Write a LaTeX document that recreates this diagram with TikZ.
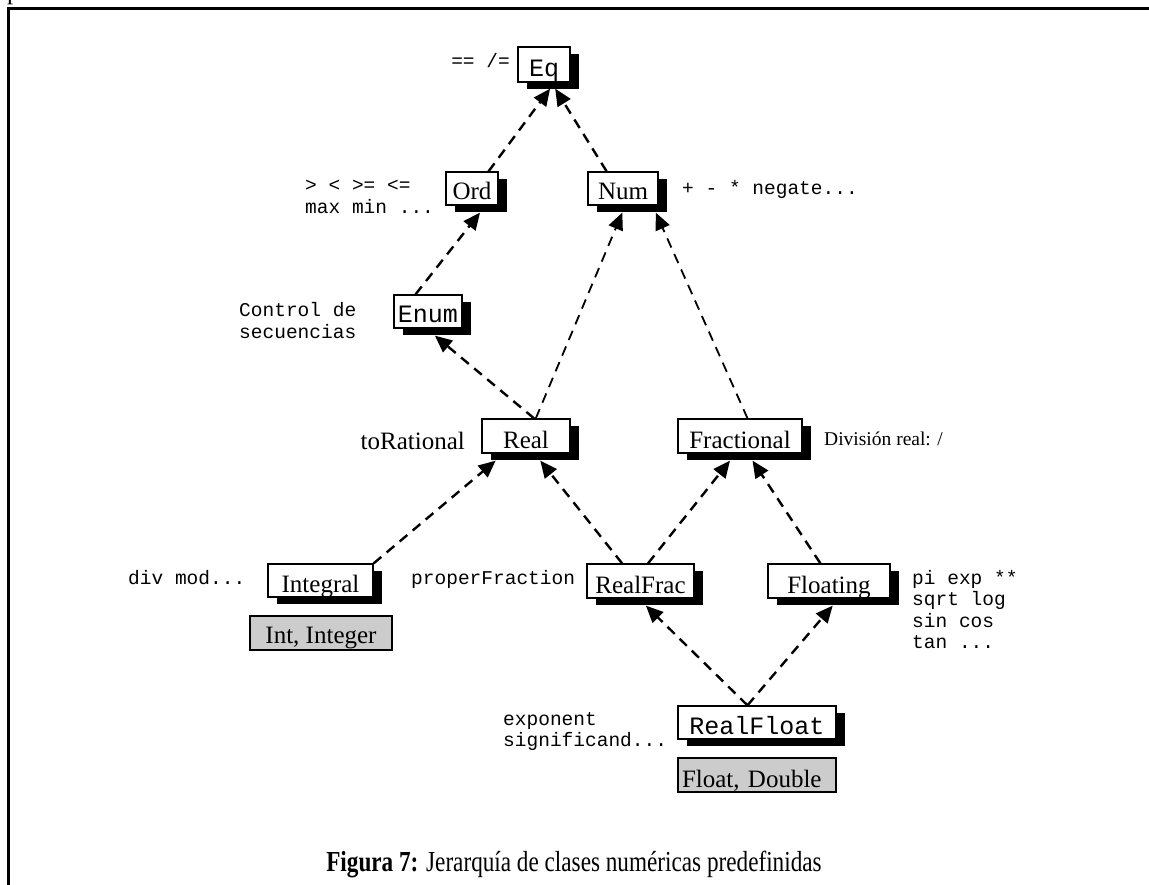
\documentclass[tikz,border=0pt]{standalone}
\usepackage{fontspec}
\setmainfont{Liberation Serif}
\newfontfamily\cour{Liberation Mono}
\usetikzlibrary{arrows.meta,calc,shadows}
\begin{document}
\begin{tikzpicture}[x=1pt,y=-1pt,
  every node/.style={inner sep=0pt},
  cls/.style={draw, line width=1.3pt, fill=white, text depth=5pt,
    drop shadow={shadow xshift=9pt, shadow yshift=-7pt, fill=black, opacity=1}},
  inst/.style={draw, line width=1.3pt, fill=black!20},
  serif/.style={font=\fontsize{25}{30}\selectfont},
  mono/.style={font=\cour\fontsize{25}{30}\selectfont},
  note/.style={font=\cour\fontsize{19.5}{21.5}\selectfont, anchor=base west},
  dep/.style={dash pattern=on 10pt off 7pt, line width=2.4pt,
    -{Triangle[length=17pt,width=15pt]}},
  lightdep/.style={dep, line width=1.8pt}
]
% page and frame
\fill[white] (0,0) rectangle (1149,885);
\useasboundingbox (0,0) rectangle (1149,885);
\node[serif,anchor=base west] (pfrag) at (7,0) {p};
\draw[line width=3pt] (8,900) -- (8,8.5) -- (1160,8.5);

% classes
\node[cls,mono,minimum width=52pt,text height=30pt] (eq) at (544,64.5) {Eq};
\node[cls,serif,minimum width=52pt,text height=28pt] (ord) at (472,188.5) {Ord};
\node[cls,serif,minimum width=70pt,text height=28pt] (num) at (623,188.5) {Num};
\node[cls,mono,minimum width=68pt,text height=28pt] (enum) at (428,311.5) {Enum};
\node[cls,serif,minimum width=88pt,text height=29pt] (real) at (526,436) {Real};
\node[cls,serif,minimum width=124pt,text height=29pt] (fractional) at (740,436) {Fractional};
\node[cls,serif,minimum width=105pt,text height=28pt] (integral) at (320.5,580.5) {Integral};
\node[cls,serif,minimum width=107pt,text height=29pt] (realfrac) at (640.5,581) {RealFrac};
\node[cls,serif,minimum width=122pt,text height=29pt] (floating) at (829,581) {Floating};
\node[cls,mono,minimum width=158pt,text height=28pt] (realfloat) at (757,722.5) {RealFloat};

% instances
\node[inst,serif,minimum width=142pt,text height=27pt,text depth=7pt] (ints) at (321,633) {Int, Integer};
\node[inst,serif,text width=150pt,inner xsep=4pt,align=left,text height=29pt,text depth=5pt] (floats) at (757,775) {Float, Double};

% operations
\node[note,anchor=base east] (eqops) at (510,68) {== /=};
\node[note] (ordops) at (305,192) {\begin{tabular}[t]{@{}l@{}}> < >= <=\\max min ...\end{tabular}};
\node[note] (numops) at (682,195) {+ - * negate...};
\node[note] (enumops) at (239,317) {\begin{tabular}[t]{@{}l@{}}Control de\\secuencias\end{tabular}};
\node[serif,anchor=base east] (realops) at (465,449) {toRational};
\node[font=\fontsize{19.5}{22}\selectfont,anchor=base west] (fracops) at (824,445) {División real: /};
\node[note] (intops) at (128,584) {div mod...};
\node[note] (rfops) at (411,584) {properFraction};
\node[note] (flops) at (912,584) {\begin{tabular}[t]{@{}l@{}}pi exp **\\sqrt log\\sin cos\\tan ...\end{tabular}};
\node[note] (rflops) at (503,725) {\begin{tabular}[t]{@{}l@{}}exponent\\significand...\end{tabular}};

% caption
\node[font=\fontsize{29}{34}\selectfont,anchor=base] (caption) at (574,871)
  {\scalebox{0.8}[1]{\textbf{Figura 7:} Jerarquía de clases numéricas predefinidas}};

% class dependencies
\draw[dep] ($(ord.north west)!0.81!(ord.north east)$) -- ($(eq.south west)!0.615!(eq.south east)+(0,6)$);
\draw[dep] ($(num.north west)!0.27!(num.north east)$) -- ($(eq.south west)!0.71!(eq.south east)+(0,6)$);
\draw[dep] ($(enum.north west)!0.32!(enum.north east)$) -- ($(ord.south west)!0.65!(ord.south east)+(0,7)$);
\draw[dep] ($(real.north west)!0.59!(real.north east)$) -- ($(enum.south west)!0.6!(enum.south east)+(0,7)$);
\draw[lightdep] ($(real.north west)!0.61!(real.north east)$) -- ($(num.south west)!0.49!(num.south east)+(0,7)$);
\draw[lightdep] ($(fractional.north west)!0.56!(fractional.north east)$) -- ($(num.south west)!0.96!(num.south east)+(0,7)$);
\draw[dep] (integral.north east) -- ($(real.south west)!0.16!(real.south east)+(0,7)$);
\draw[dep] ($(realfrac.north west)!0.33!(realfrac.north east)$) -- ($(real.south west)!0.66!(real.south east)+(0,7)$);
\draw[dep] ($(realfrac.north west)!0.57!(realfrac.north east)$) -- ($(fractional.south west)!0.42!(fractional.south east)+(0,7)$);
\draw[dep] ($(floating.north west)!0.43!(floating.north east)$) -- ($(fractional.south west)!0.6!(fractional.south east)+(0,7)$);
\draw[dep] ($(realfloat.north west)!0.44!(realfloat.north east)$) -- ($(realfrac.south west)!0.55!(realfrac.south east)+(0,7)$);
\draw[dep] ($(realfloat.north west)!0.44!(realfloat.north east)$) -- ($(floating.south west)!0.53!(floating.south east)+(0,7)$);
\end{tikzpicture}
\end{document}
